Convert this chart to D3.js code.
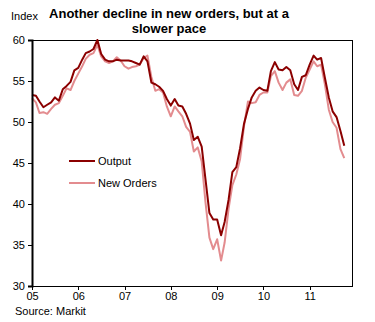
<!DOCTYPE html>
<html><head><meta charset="utf-8">
<script src="https://cdn.jsdelivr.net/npm/d3@7"></script>
<style>
body{margin:0;background:#fff;}
svg text{font-family:"Liberation Sans",Arial,sans-serif;}
</style></head>
<body><svg id="c" width="375" height="322"></svg>
<script>
const startMonth = "2005-01";
const outputValues = [53.3,53.2,52.5,51.8,52.1,52.4,53.0,52.6,54.0,54.4,54.9,56.3,
56.6,57.6,58.4,58.6,58.9,60.0,58.3,57.6,57.4,57.4,57.6,57.5,
57.5,57.5,57.4,57.2,57.0,58.0,57.4,54.8,54.6,54.3,53.8,52.8,
52.0,52.8,52.0,51.9,51.0,49.8,47.8,48.2,47.0,43.0,38.9,38.1,
38.1,36.2,37.8,40.5,43.9,44.5,46.8,49.8,51.6,53.0,53.8,54.2,
53.9,53.8,56.2,57.3,56.4,56.3,56.7,56.3,54.6,53.9,55.5,55.7,
57.0,58.1,57.6,57.8,55.4,53.0,51.3,50.6,48.9,47.1];
const newOrdersValues = [52.9,52.4,51.1,51.2,51.0,51.6,52.1,52.3,53.2,54.1,53.9,55.0,
55.9,56.8,57.7,58.2,58.4,59.4,58.0,57.4,57.2,57.4,57.9,57.5,
56.8,56.5,56.7,56.8,57.0,57.8,58.1,55.5,53.8,54.0,53.6,51.9,
50.7,51.9,51.3,50.7,49.4,48.8,46.4,46.9,45.2,40.2,35.9,34.5,
35.7,33.1,35.3,39.4,42.3,43.6,45.5,49.5,52.5,52.3,52.4,53.3,
53.6,53.6,55.6,56.2,54.8,53.9,54.8,55.2,53.3,53.2,53.8,55.4,
56.4,57.4,56.8,57.0,54.6,51.5,50.0,49.3,46.7,45.6];
const seriesNames = ["Output","New Orders"];
const yTicks = [30,35,40,45,50,55,60];
const xTickLabels = ["05","06","07","08","09","10","11"];
const titleLines = ["Another decline in new orders, but at a","slower pace"];

const svg = d3.select("#c");
const L=32, R=352, T=40, B=286;
const parse = d3.timeParse("%Y-%m");
const t0 = parse(startMonth);
const dates = outputValues.map((d,i)=>d3.timeMonth.offset(t0,i));
const x = d3.scaleTime().domain([t0, parse("2011-12")]).range([L,R]);
const y = d3.scaleLinear().domain([30,60]).range([B,T]);
const colors = ["#8B0000","#E38C8F"];

// frame
svg.append("rect").attr("x",L).attr("y",T).attr("width",R-L).attr("height",B-T)
  .attr("fill","none").attr("stroke","#000").attr("stroke-width",1).attr("shape-rendering","crispEdges");

const line = d3.line().x((d,i)=>x(dates[i])).y(d=>y(d));
[newOrdersValues, outputValues].forEach((vals,k)=>{
  const ci = k===0?1:0;
  svg.append("path").datum(vals).attr("d",line).attr("fill","none")
    .attr("stroke",colors[ci]).attr("stroke-width",2).attr("stroke-linejoin","round");
});

// y axis
const yAxis = svg.append("g").attr("transform",`translate(${L},0)`)
  .call(d3.axisLeft(y).tickValues(yTicks).tickSize(4).tickPadding(3));
yAxis.select(".domain").attr("stroke-width",2);
yAxis.selectAll("text").attr("font-size",11).attr("fill","#000");

// x axis
const xTickDates = xTickLabels.map(s=>parse("20"+s+"-01"));
const xAxis = svg.append("g").attr("transform",`translate(0,${B})`)
  .call(d3.axisBottom(x).tickValues(xTickDates).tickFormat((d,i)=>xTickLabels[i]).tickSize(4).tickPadding(2));
xAxis.select(".domain").remove();
xAxis.selectAll("text").attr("font-size",11).attr("fill","#000");
xAxis.selectAll("line").attr("shape-rendering","crispEdges");

// titles
svg.append("text").attr("x",11).attr("y",20).attr("font-size",11).text("Index");
titleLines.forEach((t,i)=>{
  svg.append("text").attr("x",169).attr("y",18+i*15).attr("text-anchor","middle")
    .attr("font-size",13).attr("font-weight","bold").text(t);
});
svg.append("text").attr("x",15).attr("y",315).attr("font-size",11).text("Source: Markit");

// legend
seriesNames.forEach((n,i)=>{
  const ly = 161 + i*22;
  svg.append("line").attr("x1",69).attr("x2",95).attr("y1",ly).attr("y2",ly)
    .attr("stroke",colors[i]).attr("stroke-width",2);
  svg.append("text").attr("x",98).attr("y",ly+4).attr("font-size",11).text(n);
});
</script></body></html>
